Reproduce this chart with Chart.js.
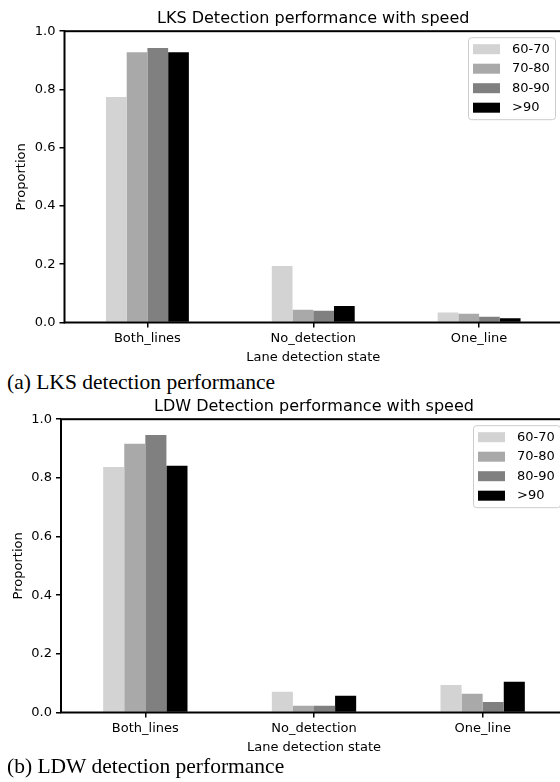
<!DOCTYPE html>
<html>
<head>
<meta charset="utf-8">
<script src="https://cdn.jsdelivr.net/npm/chart.js@4.4.1/dist/chart.umd.min.js"></script>
<style>
  html, body { margin:0; padding:0; background:#fff; }
  body { width:560px; height:782px; overflow:hidden; position:relative; }
  .wrap { position:absolute; left:0; }
  .cap { position:absolute; left:7px; font-family:"Liberation Serif","Times New Roman",serif; font-size:21.5px; line-height:21.5px; color:#000; white-space:nowrap; }
</style>
</head>
<body>
<div class="wrap" style="top:0px"><canvas id="c1" width="600" height="365"></canvas></div>
<div class="cap" style="top:372px">(a) LKS detection performance</div>
<div class="wrap" style="top:388px"><canvas id="c2" width="600" height="367"></canvas></div>
<div class="cap" style="top:756px">(b) LDW detection performance</div>
<script>
// ---- data ----
const categories = ['Both_lines', 'No_detection', 'One_line'];
const speedBands = ['60-70', '70-80', '80-90', '>90'];
const bandColors = ['#d3d3d3', '#a9a9a9', '#808080', '#000000'];
const yTicks = [0.0, 0.2, 0.4, 0.6, 0.8, 1.0];

const lks_60_70 = [0.774, 0.194, 0.034];
const lks_70_80 = [0.928, 0.044, 0.030];
const lks_80_90 = [0.942, 0.040, 0.020];
const lks_gt90  = [0.928, 0.057, 0.015];

const ldw_60_70 = [0.837, 0.071, 0.094];
const ldw_70_80 = [0.916, 0.023, 0.064];
const ldw_80_90 = [0.946, 0.023, 0.036];
const ldw_gt90  = [0.841, 0.057, 0.105];

const FONT = 'DejaVu Sans';

// frame (all four spines) drawn over the bars, title centred over the plot area
function framePlugin(title) {
  return {
    id: 'frame',
    afterDatasetsDraw(chart) {
      const a = chart.chartArea, ctx = chart.ctx;
      ctx.save();
      ctx.strokeStyle = '#000';
      ctx.lineWidth = 2;
      ctx.strokeRect(a.left, a.top, a.right - a.left, a.bottom - a.top);
      ctx.fillStyle = '#000';
      ctx.font = '16px "' + FONT + '"';
      ctx.textAlign = 'center';
      ctx.textBaseline = 'middle';
      ctx.fillText(title, (a.left + a.right) / 2, a.top - 12.6);
      ctx.restore();
    }
  };
}

function legendPlugin() {
  return {
    id: 'boxLegend',
    afterDraw(chart) {
      const a = chart.chartArea, ctx = chart.ctx;
      const w = 87, h = 82;
      const right = a.right - 7, left = right - w, top = a.top + 6;
      ctx.save();
      ctx.fillStyle = 'rgba(255,255,255,0.8)';
      ctx.strokeStyle = '#cccccc';
      ctx.lineWidth = 1;
      ctx.beginPath();
      if (ctx.roundRect) ctx.roundRect(left + 0.5, top + 0.5, w, h, 3); else ctx.rect(left + 0.5, top + 0.5, w, h);
      ctx.fill();
      ctx.stroke();
      ctx.font = '13px "' + FONT + '"';
      ctx.textBaseline = 'middle';
      ctx.textAlign = 'left';
      chart.data.datasets.forEach((ds, i) => {
        const cy = top + 12 + i * 19.5;
        ctx.fillStyle = ds.backgroundColor;
        ctx.fillRect(left + 5, cy - 5, 27, 10);
        ctx.fillStyle = '#000';
        ctx.fillText(ds.label, left + 44, cy);
      });
      ctx.restore();
    }
  };
}

function makeChart(id, title, series, yAxisWidth, padLeft, padRight) {
  const datasets = speedBands.map((lab, i) => ({
    label: lab,
    data: series[i],
    backgroundColor: bandColors[i],
    borderWidth: 0,
    barPercentage: 1.0,
    categoryPercentage: 0.5
  }));
  return new Chart(document.getElementById(id), {
    type: 'bar',
    data: { labels: categories, datasets },
    options: {
      responsive: false,
      animation: false,
      devicePixelRatio: 1,
      layout: { padding: { left: padLeft, right: padRight, top: 31.2, bottom: 0 } },
      plugins: {
        legend: { display: false },
        tooltip: { enabled: false },
        title: { display: false }
      },
      scales: {
        x: {
          type: 'category',
          offset: true,
          border: { display: false },
          grid: { display: true, drawOnChartArea: false, drawTicks: true, tickLength: 5, color: '#000', lineWidth: 1.5, offset: false },
          ticks: { color: '#000', font: { family: FONT, size: 13 }, padding: 3, maxRotation: 0 },
          title: { display: true, text: 'Lane detection state', color: '#000', font: { family: FONT, size: 13 }, padding: { top: 1, bottom: 0 } },
          afterFit(scale) { scale.height = 42.5; }
        },
        y: {
          min: 0, max: 1,
          border: { display: false },
          grid: { display: true, drawOnChartArea: false, drawTicks: true, tickLength: 5, color: '#000', lineWidth: 1.5 },
          afterBuildTicks(scale) { scale.ticks = yTicks.map(v => ({ value: v })); },
          ticks: { color: '#000', font: { family: FONT, size: 13 }, padding: 4, callback: v => Number(v).toFixed(1) },
          title: { display: true, text: 'Proportion', color: '#000', font: { family: FONT, size: 13 }, padding: { top: 0, bottom: 2 } },
          afterFit(scale) { scale.width = yAxisWidth; }
        }
      }
    },
    plugins: [framePlugin(title), legendPlugin()]
  });
}

makeChart('c1', 'LKS Detection performance with speed',
  [lks_60_70, lks_70_80, lks_80_90, lks_gt90], 50.5, 14, 38);
makeChart('c2', 'LDW Detection performance with speed',
  [ldw_60_70, ldw_70_80, ldw_80_90, ldw_gt90], 50, 11, 33);
</script>
</body>
</html>
